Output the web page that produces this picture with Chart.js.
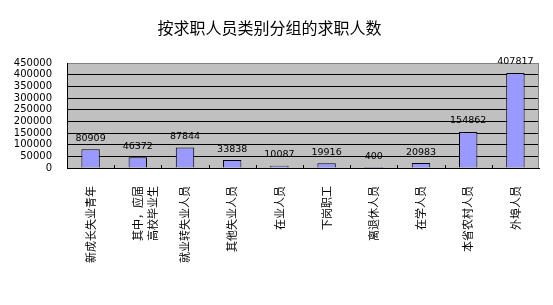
<!DOCTYPE html>
<html>
<head>
<meta charset="utf-8">
<script src="https://cdn.jsdelivr.net/npm/chart.js@4"></script>
<style>
  body { margin: 0; background: #fff; }
</style>
</head>
<body>
<canvas id="bar-chart" width="553" height="305"></canvas>
<script>
// dados do gráfico
const categorias = [
  "新成长失业青年",
  ["其中，应届", "高校毕业生"],
  "就业转失业人员",
  "其他失业人员",
  "在业人员",
  "下岗职工",
  "离退休人员",
  "在学人员",
  "本省农村人员",
  "外埠人员",
];
const valores = [80909, 46372, 87844, 33838, 10087, 19916, 400, 20983, 154862, 407817];
const yMax = 450000;
const yPasso = 50000;

// fundo cinza e bordas do gráfico
const fundoPlugin = {
  id: "fundo",
  beforeDraw(chart) {
    const { ctx, chartArea: a } = chart;
    ctx.save();
    ctx.fillStyle = "#c0c0c0";
    ctx.fillRect(a.left, a.top, a.right - a.left, a.bottom - a.top);
    ctx.restore();
  },
  afterDraw(chart) {
    const { ctx, chartArea: a } = chart;
    const x = chart.scales.x;
    ctx.save();
    ctx.strokeStyle = "#808080";
    ctx.lineWidth = 1;
    ctx.beginPath();
    ctx.moveTo(Math.round(a.right) - 0.5, a.top);
    ctx.lineTo(Math.round(a.right) - 0.5, a.bottom);
    ctx.stroke();
    // pequenos traços no eixo x
    ctx.strokeStyle = "#000";
    ctx.beginPath();
    for (let i = 1; i < categorias.length; i++) {
      const px = Math.round(x.getPixelForValue(i - 0.5)) + 0.5;
      ctx.moveTo(px, a.bottom);
      ctx.lineTo(px, a.bottom - 3);
    }
    ctx.stroke();
    ctx.restore();
  },
};

// rótulos de valor acima das barras
const rotulosPlugin = {
  id: "rotulos",
  afterDatasetsDraw(chart) {
    const { ctx } = chart;
    const meta = chart.getDatasetMeta(0);
    ctx.save();
    ctx.fillStyle = "#000";
    ctx.font = "9.5px 'DejaVu Sans'";
    ctx.textAlign = "center";
    ctx.textBaseline = "middle";
    meta.data.forEach((bar, i) => {
      ctx.fillText(String(valores[i]), bar.x, bar.y - 11);
    });
    ctx.restore();
  },
};

const ctx = document.getElementById("bar-chart").getContext("2d");

new Chart(ctx, {
  type: "bar",
  data: {
    labels: categorias,
    datasets: [
      {
        data: valores,
        backgroundColor: "#9999ff",
        borderColor: "#000",
        borderWidth: 1,
        barPercentage: 0.39,
        categoryPercentage: 1,
      },
    ],
  },
  options: {
    responsive: false,
    animation: false,
    layout: {
      padding: { left: 0, right: 14, top: 0, bottom: 0 },
    },
    plugins: {
      legend: { display: false },
      tooltip: { enabled: false },
      title: {
        display: true,
        text: "按求职人员类别分组的求职人数",
        color: "#000",
        font: { family: "'Noto Sans CJK SC'", size: 16, weight: "normal" },
        padding: { top: 18, bottom: 26 },
      },
    },
    scales: {
      x: {
        afterFit(s) {
          s.height = 137;
        },
        grid: { display: false },
        border: { color: "#000" },
        ticks: {
          autoSkip: false,
          minRotation: 90,
          maxRotation: 90,
          padding: 10,
          color: "#000",
          font: { family: "'Noto Sans CJK SC'", size: 11, lineHeight: 1.35 },
        },
      },
      y: {
        min: 0,
        max: yMax,
        afterFit(s) {
          s.width = 67;
        },
        grid: {
          drawTicks: false,
          color: (c) => (c.tick && c.tick.value === yMax ? "#808080" : "#000"),
        },
        border: { color: "#000" },
        ticks: {
          stepSize: yPasso,
          autoSkip: false,
          padding: 15,
          color: "#000",
          font: { family: "'DejaVu Sans'", size: 10, lineHeight: 1 },
          callback: (v) => String(v),
        },
      },
    },
  },
  plugins: [fundoPlugin, rotulosPlugin],
});
</script>
</body>
</html>
